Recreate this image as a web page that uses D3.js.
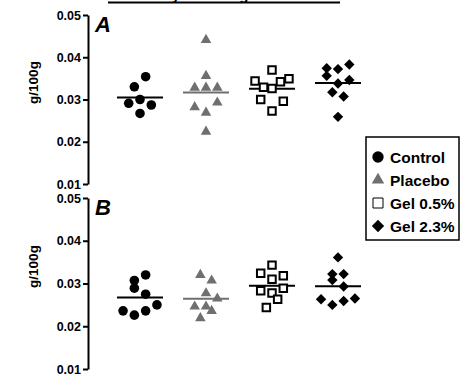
<!DOCTYPE html>
<html>
<head>
<meta charset="utf-8">
<script src="https://cdn.jsdelivr.net/npm/d3@7"></script>
<style>
  body { margin: 0; background: #fff; }
  svg { display: block; font-family: "Liberation Sans", Arial, sans-serif; }
</style>
</head>
<body>
<svg id="chart" width="461" height="376"></svg>
<script>
// groups and tick labels
const groups = ["Control", "Placebo", "Gel 0.5%", "Gel 2.3%"];
const yTicks = [0.01, 0.02, 0.03, 0.04, 0.05];

// panel A values (g/100g) with horizontal scatter offsets (in point widths)
const aControl = [0.0354, 0.0330, 0.0291, 0.0300, 0.0287, 0.0267];
const aControlOff = [0.5, -0.5, -1, 0, 1, 0];
const aPlacebo = [0.0441, 0.0356, 0.0328, 0.0328, 0.0328, 0.0293, 0.0282, 0.0269, 0.0224];
const aPlaceboOff = [0, 0, -1, 0, 1, 1, -1, 0, 0];
const aGel05 = [0.0370, 0.0344, 0.0349, 0.0342, 0.0329, 0.0326, 0.0300, 0.0296, 0.0273];
const aGel05Off = [0, -1.5, 1.5, 0.75, -0.75, 0, -1, 1, 0];
const aGel23 = [0.0383, 0.0374, 0.0372, 0.0356, 0.0346, 0.0338, 0.0317, 0.0307, 0.0259];
const aGel23Off = [1, -1, 0, -1, 1, 0, -0.5, 0.5, 0];

// panel B
const bControl = [0.0320, 0.0307, 0.0289, 0.0275, 0.0236, 0.0226, 0.0236, 0.0250];
const bControlOff = [0.5, -0.5, -0.5, 0.5, -1.5, -0.5, 0.5, 1.5];
const bPlacebo = [0.0320, 0.0307, 0.0277, 0.0265, 0.0246, 0.0246, 0.0236, 0.0219];
const bPlaceboOff = [-0.5, 0.5, 0, 1, -1, 0, 0.5, -0.5];
const bGel05 = [0.0343, 0.0324, 0.0318, 0.0310, 0.0283, 0.0278, 0.0289, 0.0263, 0.0244];
const bGel05Off = [0, -1, 1, 0, -1, 0, 1, 0.5, -0.5];
const bGel23 = [0.0361, 0.0322, 0.0322, 0.0308, 0.0293, 0.0263, 0.0250, 0.0259, 0.0265];
const bGel23Off = [0, -0.5, 0.5, -0.5, 0.5, -1.5, -0.5, 0.5, 1.5];

const svg = d3.select("#chart");
const gray = "#6f6f6f";

const styles = {
  "Control":  { shape: d3.symbolCircle,   size: 72, fill: "#000", stroke: "none", rot: 0 },
  "Placebo":  { shape: d3.symbolTriangle, size: 48, fill: gray,   stroke: "none", rot: 0 },
  "Gel 0.5%": { shape: d3.symbolSquare,   size: 56, fill: "#fff", stroke: "#000", rot: 0 },
  "Gel 2.3%": { shape: d3.symbolSquare,   size: 54, fill: "#000", stroke: "none", rot: 45 }
};

const x = d3.scalePoint().domain(groups).range([140, 338]);
const off = d3.scaleLinear().domain([-1, 1]).range([-11.3, 11.3]);

// title, clipped by the top edge as in the original, with its underline
svg.append("text")
  .attr("x", 208).attr("y", 0)
  .attr("text-anchor", "middle")
  .style("font-size", "15px").style("font-weight", "bold")
  .text("Thymus weight");
svg.append("line")
  .attr("x1", 108).attr("x2", 340).attr("y1", 2.5).attr("y2", 2.5)
  .attr("stroke", "#000").attr("stroke-width", 2);

function drawPanel(label, top, bottom, data) {
  const y = d3.scaleLinear().domain([0.01, 0.05]).range([bottom, top]);

  const ax = svg.append("g")
    .attr("transform", "translate(88,0)")
    .call(d3.axisLeft(y).tickValues(yTicks).tickFormat(d3.format(".2f")).tickSize(5).tickSizeOuter(0));
  ax.select(".domain").attr("stroke", "#000").attr("stroke-width", 2);
  ax.selectAll(".tick line").attr("stroke", "#000").attr("stroke-width", 2);
  ax.selectAll(".tick text")
    .attr("x", -7)
    .attr("fill", "#000")
    .style("font-size", "12.5px").style("font-weight", "bold")
    .style("font-family", "Liberation Sans, Arial, sans-serif");

  svg.append("text")
    .attr("transform", `translate(38,${(top + bottom) / 2 - 17}) rotate(-90)`)
    .attr("text-anchor", "middle")
    .style("font-size", "13.5px").style("font-weight", "bold")
    .text("g/100g");

  svg.append("text")
    .attr("x", 95).attr("y", top + 17)
    .style("font-size", "22px").style("font-weight", "bold").style("font-style", "italic")
    .text(label);

  data.forEach(d => {
    const st = styles[d.group];
    const cx = x(d.group);
    const m = d3.mean(d.values);
    svg.append("line")
      .attr("x1", cx - 23).attr("x2", cx + 23)
      .attr("y1", y(m)).attr("y2", y(m))
      .attr("stroke", d.group === "Placebo" ? gray : "#000")
      .attr("stroke-width", 2);

    svg.append("g").selectAll("path")
      .data(d.values.map((v, i) => ({ v, o: d.offsets[i] })))
      .join("path")
      .attr("d", d3.symbol().type(st.shape).size(st.size))
      .attr("transform", p => `translate(${cx + off(p.o)},${y(p.v)}) rotate(${st.rot})`)
      .attr("fill", st.fill)
      .attr("stroke", st.stroke)
      .attr("stroke-width", 2);
  });
}

drawPanel("A", 15, 184, [
  { group: "Control", values: aControl, offsets: aControlOff },
  { group: "Placebo", values: aPlacebo, offsets: aPlaceboOff },
  { group: "Gel 0.5%", values: aGel05, offsets: aGel05Off },
  { group: "Gel 2.3%", values: aGel23, offsets: aGel23Off }
]);

drawPanel("B", 198, 369, [
  { group: "Control", values: bControl, offsets: bControlOff },
  { group: "Placebo", values: bPlacebo, offsets: bPlaceboOff },
  { group: "Gel 0.5%", values: bGel05, offsets: bGel05Off },
  { group: "Gel 2.3%", values: bGel23, offsets: bGel23Off }
]);

// legend
const legend = svg.append("g").attr("transform", "translate(366,137)");
legend.append("rect")
  .attr("width", 93).attr("height", 103)
  .attr("fill", "#fff").attr("stroke", "#000").attr("stroke-width", 1.5);

const row = legend.selectAll("g.row")
  .data(groups)
  .join("g")
  .attr("class", "row")
  .attr("transform", (d, i) => `translate(12,${20 + i * 23})`);

row.append("path")
  .attr("d", d => d3.symbol().type(styles[d].shape).size(d === "Gel 0.5%" ? 100 : styles[d].size * 1.4)())
  .attr("transform", d => `rotate(${styles[d].rot})`)
  .attr("fill", d => styles[d].fill)
  .attr("stroke", d => d === "Gel 0.5%" ? "#000" : "none")
  .attr("stroke-width", 1);

row.append("text")
  .attr("x", 12).attr("y", 5.5)
  .style("font-size", "15.5px").style("font-weight", "bold")
  .text(d => d);
</script>
</body>
</html>
